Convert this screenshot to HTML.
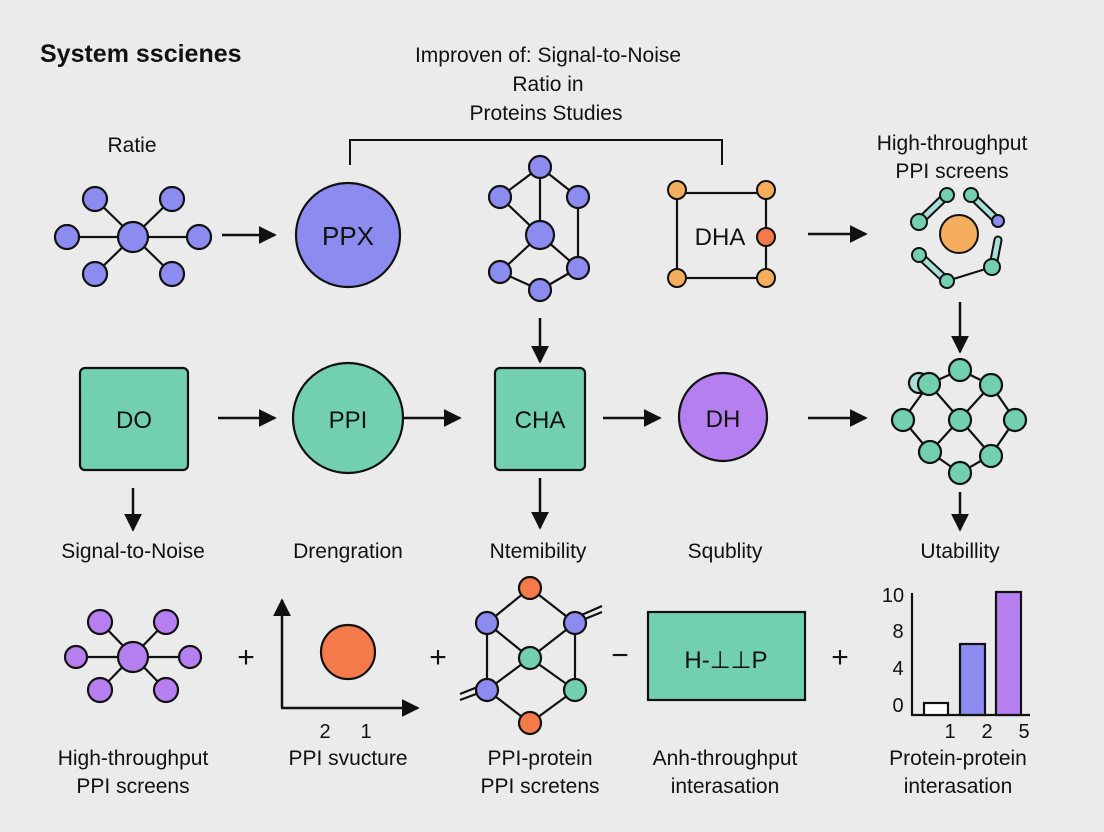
<!DOCTYPE html>
<html><head><meta charset="utf-8"><style>
html,body{margin:0;padding:0;background:#ebebeb}
svg{display:block}
text{font-family:"Liberation Sans",sans-serif;fill:#111}
</style></head><body>
<svg width="1104" height="832" viewBox="0 0 1104 832" xmlns="http://www.w3.org/2000/svg">
<defs>
<marker id="b" viewBox="0 0 10 10" markerWidth="18" markerHeight="18" refX="9" refY="5" orient="auto" markerUnits="userSpaceOnUse"><path d="M0,0 L10,5 L0,10 z" fill="#111"/></marker></defs>
<rect width="1104" height="832" fill="#ebebeb"/>
<text x="40" y="62" font-size="25" font-weight="bold">System sscienes</text>
<g font-size="21" text-anchor="middle">
<text x="548" y="62">Improven of: Signal-to-Noise</text>
<text x="548" y="91">Ratio in</text>
<text x="546" y="120">Proteins Studies</text>
<text x="132" y="152">Ratie</text>
<text x="952" y="150">High-throughput</text>
<text x="952" y="178">PPI screens</text>
</g>
<path d="M350,165 V140 H722 V165" fill="none" stroke="#111" stroke-width="2"/>
<g stroke="#111" stroke-width="2.2">
<line x1="67" y1="237" x2="199" y2="237"/><line x1="95" y1="199" x2="172" y2="274"/><line x1="172" y1="199" x2="95" y2="274"/>
</g>
<g fill="#8b8bf0" stroke="#111" stroke-width="2.2">
<circle cx="133" cy="237" r="15"/><circle cx="67" cy="237" r="12"/><circle cx="199" cy="237" r="12"/>
<circle cx="95" cy="199" r="12"/><circle cx="172" cy="199" r="12"/><circle cx="95" cy="274" r="12"/><circle cx="172" cy="274" r="12"/>
<circle cx="348" cy="235" r="52"/>
</g>
<text x="348" y="245" font-size="26" text-anchor="middle">PPX</text>
<g stroke="#111" stroke-width="2.2">
<line x1="500" y1="197" x2="540" y2="167"/><line x1="540" y1="167" x2="578" y2="197"/><line x1="500" y1="197" x2="540" y2="235"/>
<line x1="540" y1="235" x2="500" y2="272"/><line x1="500" y1="272" x2="540" y2="290"/><line x1="540" y1="290" x2="578" y2="268"/>
<line x1="578" y1="197" x2="578" y2="268"/><line x1="540" y1="167" x2="540" y2="235"/><line x1="540" y1="235" x2="578" y2="268"/>
</g>
<g fill="#8b8bf0" stroke="#111" stroke-width="2.2">
<circle cx="500" cy="197" r="11"/><circle cx="540" cy="167" r="11"/><circle cx="578" cy="197" r="11"/><circle cx="540" cy="235" r="14"/>
<circle cx="500" cy="272" r="11"/><circle cx="540" cy="290" r="11"/><circle cx="578" cy="268" r="11"/>
</g>
<rect x="677" y="193" width="89" height="85" fill="none" stroke="#111" stroke-width="2.2"/>
<g fill="#f5ad5e" stroke="#111" stroke-width="2"><circle cx="677" cy="190" r="9"/><circle cx="766" cy="190" r="9"/><circle cx="677" cy="278" r="9"/><circle cx="766" cy="278" r="9"/></g>
<circle cx="766" cy="237" r="9" fill="#f47a4a" stroke="#111" stroke-width="2"/>
<text x="720" y="245" font-size="24" text-anchor="middle">DHA</text>
<circle cx="959" cy="234" r="19" fill="#f5ad5e" stroke="#111" stroke-width="2"/>
<g stroke="#111" stroke-width="9" stroke-linecap="round"><line x1="919" y1="222" x2="947" y2="195"/><line x1="971" y1="195" x2="998" y2="221"/><line x1="919" y1="255" x2="947" y2="281"/><line x1="998" y1="240" x2="993" y2="266"/></g>
<g stroke="#a8dfd8" stroke-width="5" stroke-linecap="round"><line x1="919" y1="222" x2="947" y2="195"/><line x1="971" y1="195" x2="998" y2="221"/><line x1="919" y1="255" x2="947" y2="281"/><line x1="998" y1="240" x2="993" y2="266"/></g>
<line x1="947" y1="281" x2="992" y2="267" stroke="#111" stroke-width="2"/>
<g fill="#72cfb0" stroke="#111" stroke-width="2"><circle cx="919" cy="222" r="8"/><circle cx="947" cy="195" r="7"/><circle cx="971" cy="195" r="7"/><circle cx="919" cy="255" r="7"/><circle cx="947" cy="281" r="7"/><circle cx="992" cy="267" r="8"/></g>
<circle cx="998" cy="221" r="6" fill="#8b8bf0" stroke="#111" stroke-width="2"/>
<g stroke="#111" stroke-width="2.5" marker-end="url(#b)">
<line x1="222" y1="235" x2="275" y2="235"/><line x1="808" y1="234" x2="866" y2="234"/>
<line x1="540" y1="318" x2="540" y2="362"/><line x1="960" y1="302" x2="960" y2="352"/>
<line x1="218" y1="418" x2="275" y2="418"/><line x1="403" y1="418" x2="460" y2="418"/><line x1="603" y1="418" x2="660" y2="418"/><line x1="808" y1="418" x2="866" y2="418"/>
<line x1="133" y1="488" x2="133" y2="530"/><line x1="540" y1="478" x2="540" y2="528"/><line x1="960" y1="492" x2="960" y2="530"/>
</g>
<rect x="80" y="368" width="108" height="102" rx="5" fill="#72cfb0" stroke="#111" stroke-width="2.2"/>
<text x="134" y="428" font-size="24" text-anchor="middle">DO</text>
<circle cx="348" cy="418" r="55" fill="#72cfb0" stroke="#111" stroke-width="2.2"/>
<text x="348" y="428" font-size="24" text-anchor="middle">PPI</text>
<rect x="495" y="368" width="90" height="102" rx="5" fill="#72cfb0" stroke="#111" stroke-width="2.2"/>
<text x="540" y="428" font-size="24" text-anchor="middle">CHA</text>
<circle cx="723" cy="417" r="44" fill="#b57ff0" stroke="#111" stroke-width="2.2"/>
<text x="723" y="427" font-size="24" text-anchor="middle">DH</text>
<g stroke="#111" stroke-width="2.2" fill="none">
<path d="M929,384 L960,370 L991,385 L1015,420 L991,455 L960,473 L930,452 L903,420 Z"/>
<path d="M929,384 L991,455 M991,385 L930,452"/>
</g>
<g fill="#72cfb0" stroke="#111" stroke-width="2.2">
<circle cx="919" cy="383" r="10" fill="#a8dfd8"/>
<circle cx="929" cy="384" r="11"/><circle cx="960" cy="370" r="11"/><circle cx="991" cy="385" r="11"/><circle cx="903" cy="420" r="11"/><circle cx="960" cy="420" r="11"/>
<circle cx="1015" cy="420" r="11"/><circle cx="930" cy="452" r="11"/><circle cx="991" cy="456" r="11"/><circle cx="960" cy="473" r="11"/>
</g>
<g font-size="21" text-anchor="middle">
<text x="133" y="558">Signal-to-Noise</text><text x="348" y="558">Drengration</text><text x="538" y="558">Ntemibility</text><text x="725" y="558">Squblity</text><text x="960" y="558">Utabillity</text>
</g>
<g stroke="#111" stroke-width="2.2"><line x1="76" y1="657" x2="190" y2="657"/><line x1="100" y1="622" x2="166" y2="690"/><line x1="166" y1="622" x2="100" y2="690"/></g>
<g fill="#b57ff0" stroke="#111" stroke-width="2.2">
<circle cx="133" cy="657" r="15"/><circle cx="76" cy="657" r="11"/><circle cx="190" cy="657" r="11"/>
<circle cx="100" cy="622" r="12"/><circle cx="166" cy="622" r="12"/><circle cx="100" cy="690" r="12"/><circle cx="166" cy="690" r="12"/>
</g>
<g font-size="30" text-anchor="middle"><text x="246" y="667">+</text><text x="438" y="667">+</text><text x="840" y="667">+</text><text x="620" y="665">−</text></g>
<line x1="282" y1="708" x2="282" y2="600" stroke="#111" stroke-width="2.5" marker-end="url(#b)"/>
<line x1="281" y1="708" x2="418" y2="708" stroke="#111" stroke-width="2.5" marker-end="url(#b)"/>
<circle cx="348" cy="652" r="27" fill="#f47a4a" stroke="#111" stroke-width="2.2"/>
<text x="325" y="738" font-size="20" text-anchor="middle">2</text><text x="366" y="738" font-size="20" text-anchor="middle">1</text>
<g stroke="#111" stroke-width="2.2">
<line x1="487" y1="623" x2="530" y2="588"/><line x1="530" y1="588" x2="575" y2="623"/><line x1="487" y1="623" x2="530" y2="658"/><line x1="530" y1="658" x2="575" y2="623"/>
<line x1="487" y1="623" x2="487" y2="690"/><line x1="575" y1="623" x2="575" y2="690"/><line x1="530" y1="658" x2="487" y2="690"/><line x1="530" y1="658" x2="575" y2="690"/>
<line x1="487" y1="690" x2="530" y2="723"/><line x1="530" y1="723" x2="575" y2="690"/>
<line x1="460" y1="700" x2="487" y2="690"/><line x1="460" y1="694" x2="485" y2="684"/><line x1="575" y1="623" x2="602" y2="612"/><line x1="577" y1="617" x2="602" y2="606"/>
</g>
<g stroke="#111" stroke-width="2.2">
<circle cx="530" cy="588" r="11" fill="#f47a4a"/><circle cx="487" cy="623" r="11" fill="#8b8bf0"/><circle cx="575" cy="623" r="11" fill="#8b8bf0"/>
<circle cx="530" cy="658" r="11" fill="#72cfb0"/><circle cx="487" cy="690" r="11" fill="#8b8bf0"/><circle cx="575" cy="690" r="11" fill="#72cfb0"/><circle cx="530" cy="723" r="11" fill="#f47a4a"/>
</g>
<rect x="648" y="612" width="157" height="88" fill="#72cfb0" stroke="#111" stroke-width="2.2"/>
<text x="726" y="668" font-size="24" text-anchor="middle">H-⊥⊥P</text>
<g stroke="#111" stroke-width="2.2">
<line x1="912" y1="593" x2="912" y2="715"/><line x1="911" y1="715" x2="1030" y2="715"/>
<rect x="924" y="703" width="24" height="12" fill="#fff"/><rect x="960" y="644" width="25" height="71" fill="#8b8bf0"/><rect x="996" y="592" width="25" height="123" fill="#b57ff0"/>
</g>
<g font-size="20" text-anchor="middle">
<text x="893" y="602">10</text><text x="898" y="638">8</text><text x="898" y="675">4</text><text x="898" y="712">0</text>
<text x="950" y="738">1</text><text x="987" y="738">2</text><text x="1024" y="738">5</text>
</g>
<g font-size="21" text-anchor="middle">
<text x="133" y="765">High-throughput</text><text x="133" y="793">PPI screens</text>
<text x="348" y="765">PPI svucture</text>
<text x="540" y="765">PPI-protein</text><text x="540" y="793">PPI scretens</text>
<text x="725" y="765">Anh-throughput</text><text x="725" y="793">interasation</text>
<text x="958" y="765">Protein-protein</text><text x="958" y="793">interasation</text>
</g>
</svg>
</body></html>
